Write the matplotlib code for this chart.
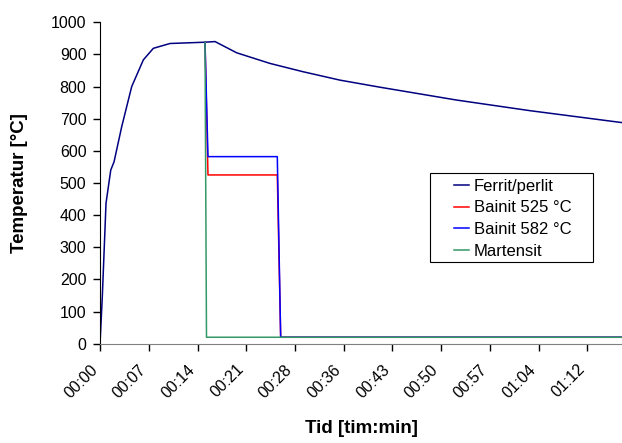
import matplotlib
matplotlib.use("Agg")
import matplotlib.pyplot as plt
from matplotlib.patches import Rectangle
from matplotlib.ticker import FixedLocator

plt.rcParams['font.family'] = ['Liberation Sans', 'DejaVu Sans']

# tid i minutter
ferrit_t = [0, 0.3, 0.84, 1.54, 2.03, 3.16, 4.64, 6.36, 7.84, 10.3, 15.48, 16.96, 20.17, 25.09, 30.01, 35.44, 41.35, 52.69, 63.53, 77.1]
ferrit_T = [20, 150, 437, 540, 566, 675, 800, 883, 919, 934, 938, 940, 905, 872, 846, 820, 798, 758, 725, 688]

bainit525_t = [15.48, 15.92, 26.17, 26.67, 77.1]
bainit525_T = [938, 525, 525, 20, 20]

bainit582_t = [15.48, 15.92, 26.17, 26.67, 77.1]
bainit582_T = [938, 582, 582, 20, 20]

martensit_t = [15.48, 15.7, 77.1]
martensit_T = [938, 20, 20]

tick_min = [0, 7.2, 14.4, 21.6, 28.8, 36, 43.2, 50.4, 57.6, 64.8, 72]
tick_labels = ['00:00', '00:07', '00:14', '00:21', '00:28', '00:36', '00:43', '00:50', '00:57', '01:04', '01:12']

W, H = 622, 443
fig = plt.figure(figsize=(W / 100, H / 100), dpi=100)
ax = fig.add_axes([0.1613, 0.2242, 0.8382, 0.7255])

ax.plot(ferrit_t, ferrit_T, color='#000080', lw=1.1, label='Ferrit/perlit')
ax.plot(bainit525_t, bainit525_T, color='#FF0000', lw=1.1, label='Bainit 525 °C')
ax.plot(bainit582_t, bainit582_T, color='#0000FF', lw=1.1, label='Bainit 582 °C')
ax.plot(martensit_t, martensit_T, color='#339966', lw=1.1, label='Martensit')

ax.set_xlim(0, 77.1)
ax.set_ylim(0, 1000)
ax.set_yticks(range(0, 1001, 100))
ax.xaxis.set_major_locator(FixedLocator(tick_min))
ax.set_xticklabels(tick_labels, rotation=45, ha='right', va='top')

ax.spines['top'].set_visible(False)
ax.spines['right'].set_visible(False)
ax.spines['left'].set_color('black')
ax.spines['bottom'].set_color('#808080')
ax.tick_params(axis='both', direction='out', length=5, width=1, labelsize=11.5, colors='black')
ax.tick_params(axis='y', pad=5)
ax.tick_params(axis='x', pad=8)

ax.set_xlabel('Tid [tim:min]', fontsize=13.5, fontweight='bold', va='center')
ax.set_ylabel('Temperatur [°C]', fontsize=13.5, fontweight='bold', va='center')
ax.xaxis.set_label_coords(0.5, (343.7 - 429) / 321.4)
ax.yaxis.set_label_coords((19 - 100.3) / 521.4, 0.5)

# legend: ramme tegnes separat
leg = ax.legend(loc='upper left', bbox_to_anchor=(454 / W, 1 - 179 / H),
                bbox_transform=fig.transFigure, fontsize=12, frameon=False,
                handlelength=0.9, borderaxespad=0, borderpad=0,
                labelspacing=0.39, handletextpad=0.3)
fig.patches.append(Rectangle((430 / W, 1 - 262 / H), 163 / W, 89 / H,
                             transform=fig.transFigure, fill=False,
                             edgecolor='black', lw=0.8))

plt.savefig('out.png', dpi=100)
